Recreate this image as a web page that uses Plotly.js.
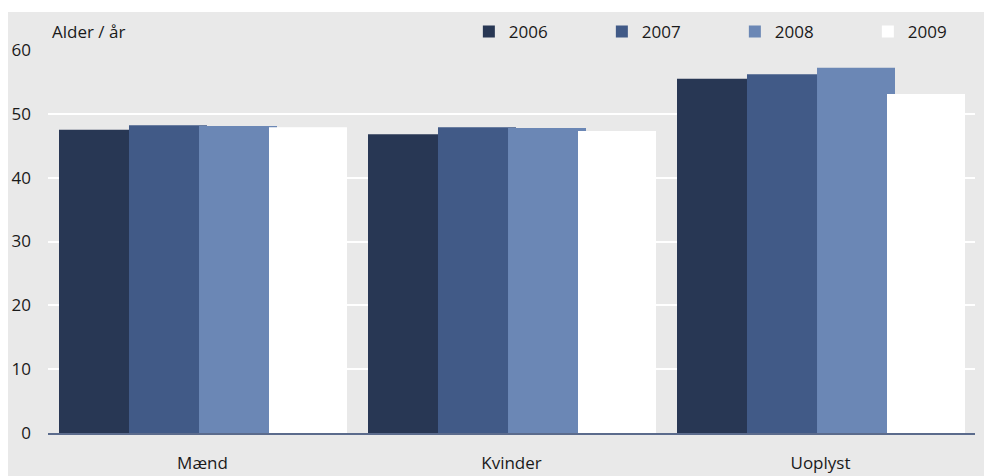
<!DOCTYPE html>
<html>
<head>
<meta charset="utf-8">
<script src="https://cdn.plot.ly/plotly-3.0.1.min.js"></script>
<style>html,body{margin:0;padding:0;background:#fff;}#chart{width:984px;height:476px;}</style>
</head>
<body>
<div id="chart"></div>
<script>
const categories = ["Mænd", "Kvinder", "Uoplyst"];
const years = ["2006", "2007", "2008", "2009"];
const v2006 = [47.5, 46.8, 55.5];
const v2007 = [48.2, 47.9, 56.2];
const v2008 = [48.1, 47.8, 57.2];
const v2009 = [47.9, 47.3, 53.1];
const yTicks = [0, 10, 20, 30, 40, 50, 60];
const yLabel = "Alder / år";

const series = [v2006, v2007, v2008, v2009];
const colors = ["#283754", "#415a87", "#6b87b5", "#ffffff"];
const offsets = [-0.4644, -0.2379, -0.0113, 0.2152];
const barWidth = 0.2524;

const traces = series.map((vals, i) => ({
  type: "bar",
  name: years[i],
  x: categories,
  y: vals,
  offset: offsets[i],
  width: barWidth,
  marker: {color: colors[i], line: {width: 0}},
  hoverinfo: "skip"
}));

const FONT = "Open Sans, Noto Sans, sans-serif";
const layout = {
  width: 984, height: 476,
  margin: {l: 48, r: 9, t: 50, b: 43, pad: 0, autoexpand: false},
  paper_bgcolor: "#ffffff",
  plot_bgcolor: "#dcdcdc",
  barmode: "overlay",
  font: {family: FONT, size: 17, color: "#1a1a1a"},
  showlegend: true,
  legend: {
    orientation: "h", x: 0.454, xanchor: "left", y: 1.047, yanchor: "middle",
    entrywidth: 88, entrywidthmode: "pixels", bgcolor: "rgba(0,0,0,0)",
    borderwidth: 0,
    font: {family: FONT, size: 17, color: "#1a1a1a"}, traceorder: "normal"
  },
  xaxis: {
    type: "category", showgrid: false, zeroline: false,
    showline: true, linecolor: "#5b6b8c", linewidth: 1.5,
    ticks: "", ticklabelstandoff: 14,
    tickfont: {family: FONT, size: 17, color: "#1a1a1a"}
  },
  yaxis: {
    range: [0, 60], tickvals: yTicks, ticktext: yTicks.map(String),
    showgrid: true, gridcolor: "#ffffff", gridwidth: 2,
    zeroline: false, showline: false, ticks: "", ticklabelstandoff: 16,
    tickfont: {family: FONT, size: 17, color: "#1a1a1a"}
  },
  shapes: [{
    type: "rect", xref: "paper", yref: "paper", layer: "below",
    x0: -0.04315, x1: 1.02, y0: -0.13, y1: 1.0992,
    fillcolor: "#e9e9e9", line: {width: 0}
  }],
  annotations: [{
    text: yLabel, xref: "paper", yref: "paper", x: 0.002, y: 1.047,
    xanchor: "left", yanchor: "middle", showarrow: false,
    font: {family: FONT, size: 17, color: "#1a1a1a"}
  }]
};

Plotly.newPlot("chart", traces, layout, {displayModeBar: false, staticPlot: true});
</script>
</body>
</html>
